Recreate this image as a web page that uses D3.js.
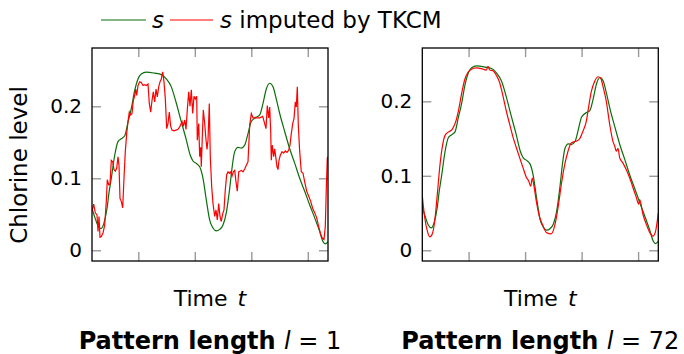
<!DOCTYPE html>
<html>
  <head>
    <title>Chlorine level imputed by TKCM</title>
    <script src="https://d3js.org/d3.v7.min.js"></script>
    <style>
      body { margin: 0; background: #fff; }
      text { font-family: "DejaVu Sans", sans-serif; fill: #000; }
    </style>
  </head>
  <body>
    <svg width="684" height="354"></svg>
    <script>
      // original series s (same in both panels)
      const timeS = [0, 3, 6, 9, 12, 15, 17, 19.3, 22.7, 26, 29.3, 32.7, 36, 39.3, 42.7, 46, 49.3, 54.3, 62.7, 69.3,
        74.3, 79.3, 84, 89, 94, 98, 101, 104, 107.7, 111, 114.3, 117.7, 121, 124.3, 127.7, 131, 134.3, 137.7, 140, 142.7,
        146, 149.3, 152.7, 156, 159.3, 164.3, 167.7, 171, 174.3, 177.7, 181, 184.3, 187.7, 192.7, 197.7, 202.7, 207.7,
        212.7, 217.7, 222.7, 227.7, 231, 233.3, 236];
      const valueS = [0.058, 0.045, 0.034, 0.030, 0.038, 0.058, 0.08, 0.1, 0.132, 0.151, 0.155, 0.159, 0.178, 0.197, 0.222,
        0.238, 0.245, 0.2475, 0.246, 0.244, 0.238, 0.227, 0.206, 0.18, 0.155, 0.133, 0.124, 0.121, 0.116, 0.1, 0.07, 0.042,
        0.031, 0.027, 0.029, 0.035, 0.052, 0.086, 0.114, 0.137, 0.143, 0.142, 0.146, 0.162, 0.179, 0.185, 0.188, 0.204,
        0.224, 0.232, 0.227, 0.21, 0.19, 0.165, 0.141, 0.121, 0.1, 0.082, 0.063, 0.045, 0.026, 0.012, 0.009, 0.012];

      // s imputed by TKCM, pattern length l = 1
      const timeL1 = [0, 1.7, 3.3, 5, 6, 7, 8, 9.3, 11, 12.7, 14.3, 15.3, 16.7, 18, 19.3, 20.7, 22, 23.3, 24.7, 26, 27, 28,
        29.3, 30.7, 32, 33.3, 34.7, 36, 37.3, 38.7, 40, 41.3, 42.7, 43.7, 44.7, 46, 47.7, 49.3, 51, 52.7, 54.3, 56, 57.3,
        58.7, 60, 61.3, 62.7, 64, 65.3, 66.7, 68, 69.3, 70.7, 72, 73.3, 74.7, 76, 77.3, 78.7, 80, 82, 84, 86, 88, 90, 91.3,
        92.7, 94, 95.3, 96.7, 98, 99.3, 100.7, 102, 103.3, 104.7, 105.3, 106.7, 107.7, 108.7, 109.3, 110.3, 111.3, 112.7,
        113.7, 115, 116, 117.3, 118.3, 119.7, 121, 122.7, 124, 125.3, 126.7, 128, 129.3, 130.7, 132, 133.3, 134.7, 136,
        137.3, 138.7, 140, 141.3, 142.7, 144, 145.3, 146.7, 149.3, 151, 152.7, 154.3, 156, 157.7, 159.3, 161, 164.3, 167.7,
        170.7, 174, 175.3, 176.7, 177.7, 178.7, 179.3, 180.3, 181.7, 182.7, 184, 185, 186, 187, 188.3, 190, 191.7, 193.3,
        195, 196.7, 198, 199.3, 200.7, 202, 203.3, 204.3, 205.3, 206.3, 207.7, 209.3, 211, 212.7, 214.7, 216.7, 218.7,
        220.7, 222.7, 224.7, 226.7, 228.7, 230.3, 232, 233.3, 234.3, 235.3, 236];
      const valueL1 = [0.054, 0.064, 0.052, 0.049, 0.026, 0.047, 0.018, 0.019, 0.024, 0.035, 0.068, 0.098, 0.091, 0.092,
        0.125, 0.123, 0.112, 0.110, 0.114, 0.130, 0.118, 0.072, 0.068, 0.059, 0.1, 0.137, 0.162, 0.179, 0.192, 0.188, 0.19,
        0.208, 0.215, 0.224, 0.215, 0.229, 0.234, 0.233, 0.229, 0.23, 0.229, 0.231, 0.204, 0.192, 0.208, 0.22, 0.206, 0.224,
        0.213, 0.227, 0.234, 0.238, 0.248, 0.234, 0.211, 0.169, 0.176, 0.192, 0.172, 0.167, 0.166, 0.167, 0.168, 0.172,
        0.179, 0.172, 0.181, 0.168, 0.195, 0.22, 0.2, 0.223, 0.19, 0.214, 0.21, 0.214, 0.153, 0.176, 0.13, 0.143, 0.116,
        0.158, 0.195, 0.176, 0.158, 0.14, 0.153, 0.204, 0.13, 0.088, 0.065, 0.047, 0.056, 0.042, 0.065, 0.047, 0.04, 0.051,
        0.056, 0.084, 0.105, 0.109, 0.107, 0.109, 0.103, 0.109, 0.111, 0.095, 0.082, 0.109, 0.111, 0.109, 0.113, 0.118,
        0.123, 0.174, 0.19, 0.184, 0.184, 0.184, 0.186, 0.169, 0.201, 0.184, 0.199, 0.165, 0.125, 0.146, 0.13, 0.141, 0.127,
        0.116, 0.112, 0.125, 0.132, 0.137, 0.135, 0.138, 0.136, 0.139, 0.146, 0.162, 0.176, 0.183, 0.206, 0.199, 0.227,
        0.174, 0.137, 0.109, 0.107, 0.095, 0.082, 0.075, 0.068, 0.058, 0.052, 0.045, 0.033, 0.022, 0.017, 0.015, 0.033,
        0.086, 0.128, 0.13];

      // s imputed by TKCM, pattern length l = 72
      const timeL72 = [0, 2.4, 5, 7.4, 9.7, 12.4, 15, 17.7, 20.4, 23, 26.4, 29.7, 33, 36.4, 39.7, 42.4, 45.7, 49, 54, 59,
        64, 65.7, 67.4, 70.7, 74, 77.4, 80.7, 84, 87.4, 90.7, 94, 97.4, 100.7, 104, 106.4, 108.4, 110, 111.7, 114, 117.4,
        120.7, 124, 129, 132.4, 135.7, 139, 142.4, 145.7, 149, 152.4, 155, 157.4, 160.7, 164, 166.4, 169, 172.4, 175.7,
        178.4, 180.7, 184, 187.4, 190.7, 192.4, 194, 195.7, 197.4, 200.7, 204, 207.4, 210.7, 214, 216.4, 217.4, 220.7, 224,
        227.4, 230.7, 233, 236];
      const valueL72 = [0.073, 0.044, 0.026, 0.018, 0.021, 0.039, 0.075, 0.115, 0.142, 0.155, 0.159, 0.162, 0.171, 0.189,
        0.213, 0.229, 0.239, 0.243, 0.245, 0.244, 0.242, 0.247, 0.242, 0.241, 0.235, 0.225, 0.207, 0.187, 0.169, 0.152,
        0.138, 0.124, 0.111, 0.098, 0.093, 0.086, 0.097, 0.086, 0.066, 0.044, 0.033, 0.024, 0.022, 0.033, 0.057, 0.088,
        0.115, 0.133, 0.144, 0.146, 0.147, 0.150, 0.16, 0.173, 0.193, 0.213, 0.227, 0.233, 0.231, 0.22, 0.2, 0.169, 0.146,
        0.14, 0.133, 0.137, 0.124, 0.117, 0.108, 0.097, 0.084, 0.071, 0.062, 0.068, 0.048, 0.035, 0.024, 0.019, 0.024, 0.05];

      const timeTicks = [46.3, 102.8, 159.3, 215.8];
      const levelTicks = [0, 0.1, 0.2];
      const levelTickLabels = ["0", "0.1", "0.2"];
      const titles = ["Pattern length ", "Pattern length "];
      const titleValues = ["1", "72"];

      const svg = d3.select("svg");
      const plotTop = 48, plotBottom = 261;
      const green = "#0b6e0b", red = "#ff0000";

      function panel(left, right, yDomain, tI, vI, idx) {
        const x = d3.scaleLinear().domain([0, 236]).range([left, right]);
        const y = d3.scaleLinear().domain(yDomain).range([plotBottom, plotTop]);
        const g = svg.append("g");

        const clipId = "clip" + idx;
        svg.append("clipPath").attr("id", clipId)
          .append("rect").attr("x", left).attr("y", plotTop)
          .attr("width", right - left).attr("height", plotBottom - plotTop);

        const tick = 9;
        const style = sel => {
          sel.select(".domain").remove();
          sel.selectAll("line").attr("stroke", "#9a9a9a").attr("stroke-width", 1.4);
        };
        g.append("g").attr("transform", `translate(0,${plotBottom})`)
          .call(d3.axisBottom(x).tickValues(timeTicks).tickSize(-tick).tickFormat(""))
          .call(style);
        g.append("g").attr("transform", `translate(0,${plotTop})`)
          .call(d3.axisTop(x).tickValues(timeTicks).tickSize(-tick).tickFormat(""))
          .call(style);
        g.append("g").attr("transform", `translate(${right},0)`)
          .call(d3.axisRight(y).tickValues(levelTicks).tickSize(-tick).tickFormat(""))
          .call(style);
        g.append("g").attr("transform", `translate(${left},0)`)
          .call(d3.axisLeft(y).tickValues(levelTicks).tickSize(-tick).tickPadding(10)
            .tickFormat((d, i) => levelTickLabels[i]))
          .call(style)
          .call(a => a.selectAll("text")
            .attr("font-family", "DejaVu Sans").attr("font-size", 20).attr("fill", "#000"));

        const line = (ts, vs, curve) => d3.line()
          .x((d, i) => x(ts[i])).y(d => y(d)).curve(curve)(vs);

        const lines = g.append("g").attr("clip-path", `url(#${clipId})`);
        lines.append("path").attr("d", line(timeS, valueS, d3.curveMonotoneX))
          .attr("fill", "none").attr("stroke", green).attr("stroke-width", 1.2);
        lines.append("path").attr("d", line(tI, vI, idx === 0 ? d3.curveLinear : d3.curveMonotoneX))
          .attr("fill", "none").attr("stroke", red).attr("stroke-width", 1.2);

        g.append("rect").attr("x", left).attr("y", plotTop)
          .attr("width", right - left).attr("height", plotBottom - plotTop)
          .attr("fill", "none").attr("stroke", "#000").attr("stroke-width", 1.3);

        const cx = (left + right) / 2;
        const xl = g.append("text").attr("x", cx).attr("y", 306)
          .attr("text-anchor", "middle").attr("font-size", 22);
        xl.append("tspan").text("Time ");
        xl.append("tspan").attr("font-style", "italic").attr("dx", 3).text("t");

        const tl = g.append("text").attr("x", cx).attr("y", 349)
          .attr("text-anchor", "middle").attr("font-size", 24);
        tl.append("tspan").attr("font-weight", "bold").text(titles[idx]);
        tl.append("tspan").attr("font-style", "italic").text("l");
        tl.append("tspan").text(" = " + titleValues[idx]);
      }

      panel(92, 328, [-0.0149, 0.281], timeL1, valueL1, 0);
      panel(422.3, 658.3, [-0.0144, 0.2716], timeL72, valueL72, 1);

      svg.append("text")
        .attr("transform", "translate(27,165) rotate(-90)")
        .attr("text-anchor", "middle").attr("font-size", 23)
        .text("Chlorine level");

      // legend
      const lg = svg.append("g");
      lg.append("line").attr("x1", 101).attr("x2", 146).attr("y1", 20).attr("y2", 20)
        .attr("stroke", green).attr("stroke-width", 1.2);
      lg.append("text").attr("x", 152).attr("y", 28).attr("font-size", 23)
        .attr("font-style", "italic").text("s");
      lg.append("line").attr("x1", 170).attr("x2", 213).attr("y1", 20).attr("y2", 20)
        .attr("stroke", red).attr("stroke-width", 1.2);
      const lt = lg.append("text").attr("x", 220).attr("y", 28).attr("font-size", 23);
      lt.append("tspan").attr("font-style", "italic").text("s");
      lt.append("tspan").text(" imputed by TKCM");
    </script>
  </body>
</html>
